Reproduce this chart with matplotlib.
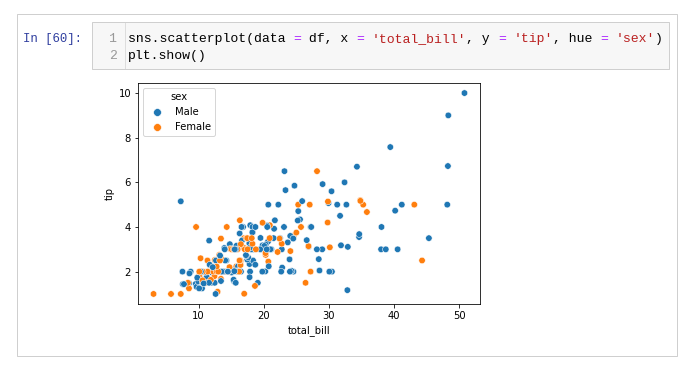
import matplotlib
matplotlib.use("Agg")
import matplotlib.pyplot as plt
from matplotlib.patches import Rectangle
from matplotlib.lines import Line2D
import pandas as pd
import seaborn as sns

W, H = 695, 367

# tips data: total_bill, tip, sex (M/F codes), rows in dataset order
total_bill = [
    16.99, 10.34, 21.01, 23.68, 24.59, 25.29, 8.77, 26.88, 15.04, 14.78,
    10.27, 35.26, 15.42, 18.43, 14.83, 21.58, 10.33, 16.29, 16.97, 20.65,
    17.92, 20.29, 15.77, 39.42, 19.82, 17.81, 13.37, 12.69, 21.70, 19.65,
    9.55, 18.35, 15.06, 20.69, 17.78, 24.06, 16.31, 16.93, 18.69, 31.27,
    16.04, 17.46, 13.94, 9.68, 30.40, 18.29, 22.23, 32.40, 28.55, 18.04,
    12.54, 10.29, 34.81, 9.94, 25.56, 19.49, 38.01, 26.41, 11.24, 48.27,
    20.29, 13.81, 11.02, 18.29, 17.59, 20.08, 16.45, 3.07, 20.23, 15.01,
    12.02, 17.07, 26.86, 25.28, 14.73, 10.51, 17.92, 27.20, 22.76, 17.29,
    19.44, 16.66, 10.07, 32.68, 15.98, 34.83, 13.03, 18.28, 24.71, 21.16,
    28.97, 22.49, 5.75, 16.32, 22.75, 40.17, 27.28, 12.03, 21.01, 12.46,
    11.35, 15.38, 44.30, 22.42, 20.92, 15.36, 20.49, 25.21, 18.24, 14.31,
    14.00, 7.25, 38.07, 23.95, 25.71, 17.31, 29.93, 10.65, 12.43, 24.08,
    11.69, 13.42, 14.26, 15.95, 12.48, 29.80, 8.52, 14.52, 11.38, 22.82,
    19.08, 20.27, 11.17, 12.26, 18.26, 8.51, 10.33, 14.15, 16.00, 13.16,
    17.47, 34.30, 41.19, 27.05, 16.43, 8.35, 18.64, 11.87, 9.78, 7.51,
    14.07, 13.13, 17.26, 24.55, 19.77, 29.85, 48.17, 25.00, 13.39, 16.49,
    21.50, 12.66, 16.21, 13.81, 17.51, 24.52, 20.76, 31.71, 10.59, 10.63,
    50.81, 15.81, 7.25, 31.85, 16.82, 32.90, 17.89, 14.48, 9.60, 34.63,
    34.65, 23.33, 45.35, 23.17, 40.55, 20.69, 20.90, 30.46, 18.15, 23.10,
    15.69, 19.81, 28.44, 15.48, 16.58, 7.56, 10.34, 43.11, 13.00, 13.51,
    18.71, 12.74, 13.00, 16.40, 20.53, 16.47, 26.59, 38.73, 24.27, 12.76,
    30.06, 25.89, 48.33, 13.27, 28.17, 12.90, 28.15, 11.59, 7.74, 30.14,
    12.16, 13.42, 8.58, 15.98, 13.42, 16.27, 10.09, 20.45, 13.28, 22.12,
    24.01, 15.69, 11.61, 10.77, 15.53, 10.07, 12.60, 32.83, 35.83, 29.03,
    27.18, 22.67, 17.82, 18.78,
]
tip = [
    1.01, 1.66, 3.50, 3.31, 3.61, 4.71, 2.00, 3.12, 1.96, 3.23,
    1.71, 5.00, 1.57, 3.00, 3.02, 3.92, 1.67, 3.71, 3.50, 3.35,
    4.08, 2.75, 2.23, 7.58, 3.18, 2.34, 2.00, 2.00, 4.30, 3.00,
    1.45, 2.50, 3.00, 2.45, 3.27, 3.60, 2.00, 3.07, 2.31, 5.00,
    2.24, 2.54, 3.06, 1.32, 5.60, 3.00, 5.00, 6.00, 2.05, 3.00,
    2.50, 2.60, 5.20, 1.56, 4.34, 3.51, 3.00, 1.50, 1.76, 6.73,
    3.21, 2.00, 1.98, 3.76, 2.64, 3.15, 2.47, 1.00, 2.01, 2.09,
    1.97, 3.00, 3.14, 5.00, 2.20, 1.25, 3.08, 4.00, 3.00, 2.71,
    3.00, 3.40, 1.83, 5.00, 2.03, 5.17, 2.00, 4.00, 5.85, 3.00,
    3.00, 3.50, 1.00, 4.30, 3.25, 4.73, 4.00, 1.50, 3.00, 1.50,
    2.50, 3.00, 2.50, 3.48, 4.08, 1.64, 4.06, 4.29, 3.76, 4.00,
    3.00, 1.00, 4.00, 2.55, 4.00, 3.50, 5.07, 1.50, 1.80, 2.92,
    2.31, 1.68, 2.50, 2.00, 2.52, 4.20, 1.48, 2.00, 2.00, 2.18,
    1.50, 2.83, 1.50, 2.00, 3.25, 1.25, 2.00, 2.00, 2.00, 2.75,
    3.50, 6.70, 5.00, 5.00, 2.30, 1.50, 1.36, 1.63, 1.73, 2.00,
    2.50, 2.00, 2.74, 2.00, 2.00, 5.14, 5.00, 3.75, 2.61, 2.00,
    3.50, 2.50, 2.00, 2.00, 3.00, 3.48, 2.24, 4.50, 1.61, 2.00,
    10.00, 3.16, 5.15, 3.18, 4.00, 3.11, 2.00, 2.00, 4.00, 3.55,
    3.68, 5.65, 3.50, 6.50, 3.00, 5.00, 3.50, 2.00, 3.50, 4.00,
    1.50, 4.19, 2.56, 2.02, 4.00, 1.44, 2.00, 5.00, 2.00, 2.00,
    4.00, 2.01, 2.00, 2.50, 4.00, 3.23, 3.41, 3.00, 2.03, 2.23,
    2.00, 5.16, 9.00, 2.50, 6.50, 1.10, 3.00, 1.50, 1.44, 3.09,
    2.20, 3.48, 1.92, 3.00, 1.58, 2.50, 2.00, 3.00, 2.72, 2.88,
    2.00, 3.00, 3.39, 1.47, 3.00, 1.25, 1.00, 1.17, 4.67, 5.92,
    2.00, 2.00, 1.75, 3.00,
]
sex_codes = (
    "FMMMFMMMMM" "MFMMFMFMFM" "MFFMMMMMMF" "MMFFMMMFMM" "MMMMMMMMMM"
    "MFFMMMMFMM" "MMMMMMFFMM" "MFFFFMMMMM" "MMFMMFMMMM" "MMFFFMMMMM"
    "FFFFFMMMMF" "MFMMFFMFFF" "MFMMFFMFFM" "MFFFFFFFMF" "FMMFFFFFMM"
    "MMMMMFMFFM" "MMFMFMMMFF" "MMMMMMMMFM" "MMMMMMFMFM" "MFMMMMMFFM"
    "MFFFMFMMMF" "MMMFFFMMMF" "MFMFMFFMMF" "MMMMMMMMFM" "FMMF"
)
hue_order = ["Male", "Female"]

code_lines = [
    "sns.scatterplot(data = df, x = 'total_bill', y = 'tip', hue = 'sex')",
    "plt.show()",
]
prompt = "In [60]:"


def fx(x):
    return x / W


def fy(y):
    return 1 - y / H


df = pd.DataFrame({
    "total_bill": total_bill,
    "tip": tip,
    "sex": ["Male" if c == "M" else "Female" for c in sex_codes],
})

fig = plt.figure(figsize=(W / 72, H / 72), dpi=72)
fig.patch.set_facecolor("white")

# notebook cell frame
fig.patches.append(Rectangle((fx(17), fy(356)), fx(677) - fx(17), fy(14) - fy(356),
                             transform=fig.transFigure, facecolor="none",
                             edgecolor="#cfcfcf", linewidth=1))
fig.patches.append(Rectangle((fx(92), fy(69)), fx(669) - fx(92), fy(22) - fy(69),
                             transform=fig.transFigure, facecolor="#f7f7f7",
                             edgecolor="#cfcfcf", linewidth=1))
fig.lines.append(Line2D([fx(125), fx(125)], [fy(23), fy(68)],
                        transform=fig.transFigure, color="#dddddd", linewidth=1))

mono = "Liberation Mono"
cw = 7.87
code_size = cw / 0.6  # monospace advance is 0.6 em
fig.text(fx(23), fy(41.7), prompt, color="#303F9F", family=mono,
         fontsize=12.4, va="baseline")

baselines = [41.7, 58.7]
for n, (line, base) in enumerate(zip(code_lines, baselines)):
    fig.text(fx(117), fy(base), str(n + 1), color="#999999", family=mono,
             fontsize=code_size, va="baseline", ha="right")
    # split into coloured runs
    runs = []
    in_str = False
    for i, ch in enumerate(line):
        if ch == "'":
            col = "#BA2121"
            in_str = not in_str
        elif in_str:
            col = "#BA2121"
        elif ch == "=":
            col = "#AA22FF"
        else:
            col = "#000000"
        if runs and runs[-1][2] == col:
            runs[-1][1] += ch
        else:
            runs.append([i, ch, col])
    for start, txt, col in runs:
        fig.text(fx(128 + start * cw), fy(base), txt, color=col, family=mono,
                 fontsize=code_size, va="baseline")

# plot
ax = fig.add_axes([fx(138), fy(304), fx(480) - fx(138), fy(83) - fy(304)])
sns.scatterplot(data=df, x="total_bill", y="tip", hue="sex",
                hue_order=hue_order, s=42, ax=ax)
sns.move_legend(ax, "upper left", markerscale=1.2)
ax.set_yticks([2, 4, 6, 8, 10])
ax.set_xticks([10, 20, 30, 40, 50])

fig.savefig("out.png", dpi=72, facecolor="white")
